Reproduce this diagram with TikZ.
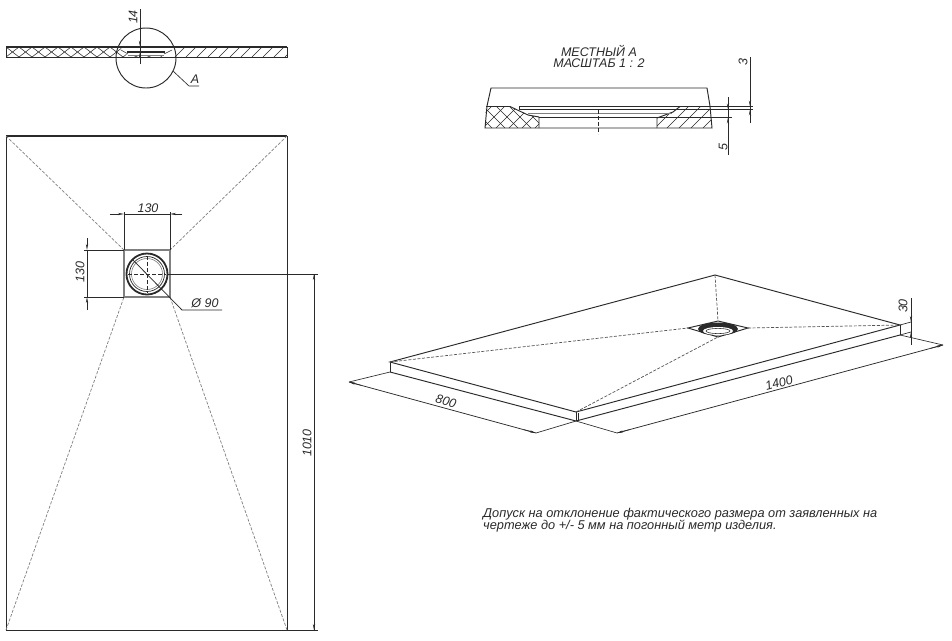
\documentclass[tikz,border=0pt]{standalone}
\usepackage{fontspec}
\setmainfont{Liberation Sans}
\usetikzlibrary{arrows.meta}
\definecolor{ink}{HTML}{2A2A2A}
\definecolor{soft}{HTML}{808080}
\tikzset{
  x=1pt,y=-1pt,
  edge/.style={draw=ink,line width=0.95pt},
  heavy/.style={draw=ink,line width=1.2pt},
  thin line/.style={draw=ink,line width=0.55pt},
  dash line/.style={draw=soft,line width=0.7pt,dash pattern=on 3pt off 1.6pt},
  dash dark/.style={draw=ink,line width=0.8pt,dash pattern=on 4pt off 2pt},
  dim/.style={draw=ink,line width=0.65pt},
  tip/.style={draw=ink,line width=0.65pt,-{Stealth[length=6pt,width=2.2pt]}},
  lbl/.style={font=\itshape\fontsize{12.5}{13}\selectfont,text=ink,inner sep=0pt},
}
\begin{document}
\begin{tikzpicture}
\useasboundingbox (0,0) rectangle (952,640);
\fill[white] (0,0) rectangle (952,640);

% ---------- top section
\begin{scope}
\clip (6,47) rectangle (287,57);
\foreach \k in {-2,...,11}{
  \draw[thin line] ({6+\k*13},47) -- ({6+(\k+1)*13},57);
  \draw[thin line] ({6+(\k+1)*13},47) -- ({6+\k*13},57);
}
\foreach \k in {0,...,13}{
  \draw[thin line] ({175+\k*11},57) -- ({185+\k*11},47);
}
\end{scope}
\fill[white] (121,48) -- (172,48) -- (165,56) -- (128,56) -- cycle;
\draw[edge] (6,47) rectangle (287,57);
\draw[heavy] (6,46.5) -- (287,46.5);
\draw[line width=2pt,draw=ink] (127,52) -- (165,52);
\draw[thin line] (121,50) -- (128,54) (172,50) -- (164,54);
\draw[line width=1pt,draw=soft] (128,55) -- (164,55);
\coordinate (circC) at (146,58);
\draw[edge] (circC) circle[radius=30];
\coordinate (dimA) at (140,9);
\coordinate (dimB) at (140,64);
\draw[dim] (dimA) -- (dimB);
\draw[tip] (140,32) -- (140,46.5);
\draw[tip] (140,64) -- (140,52);
\coordinate (la) at (173,71);
\coordinate (lb) at (189,86);
\coordinate (lc) at (199,86);
\draw[dim] (la) -- (lb) -- (lc);
\node[lbl] (labA) at (195,79) {А};
\node[lbl,rotate=90] (lab14) at (133,17) {14};

% ---------- detail
\node[lbl] (t1) at (599,50.5) {МЕСТНЫЙ А};
\node[lbl] (t2) at (599,63.5) {МАСШТАБ 1 : 2};
\begin{scope}
\clip (486,106.5) -- (510,106.5) -- (528,115) -- (539,117) -- (539,128) -- (485,128) -- cycle;
\foreach \k in {-1,...,7}{
  \draw[thin line] ({470+\k*13},106) -- ({470+\k*13+22},128);
  \draw[thin line] ({470+\k*13},128) -- ({470+\k*13+22},106);
}
\end{scope}
\begin{scope}
\clip (657,128) -- (657,118) -- (673,112) -- (680,106.5) -- (710,106.5) -- (712,128) -- cycle;
\foreach \k in {0,...,6}{
  \draw[thin line] ({655+\k*12},128) -- ({677+\k*12},106);
}
\end{scope}
\draw[edge] (487,106) -- (491,88) -- (707,88) -- (710,106) -- (712,128) -- (485,128) -- cycle;
\draw[edge] (486,106.5) -- (510,106.5) -- (528,115) -- (539,117) -- (539,128);
\draw[edge] (657,128) -- (657,118) -- (673,112) -- (680,106.5);
\draw[line width=1.6pt,draw=soft] (528,113.5) -- (672,113.5);
\draw[edge] (519,106.5) -- (753,106.5);
\draw[edge] (519,106.5) -- (519,110);
\draw[thin line] (519,109.5) -- (753,109.5);
\draw[edge] (539,117.5) -- (732,117.5);
\draw[dash dark] (598,110) -- (598,134);
\coordinate (d3a) at (750,57);
\coordinate (d3b) at (750,123);
\draw[dim] (d3a) -- (d3b);
\draw[tip] (750,95) -- (750,106.5);
\draw[tip] (750,123) -- (750,109.5);
\coordinate (d5a) at (728,97);
\coordinate (d5b) at (728,155);
\draw[dim] (d5a) -- (d5b);
\draw[tip] (728,97) -- (728,109.5);
\draw[tip] (728,132) -- (728,117.5);
\node[lbl,rotate=90] (lab3) at (743,62) {3};
\node[lbl,rotate=90] (lab5) at (723,147) {5};

% ---------- plan
\draw[edge] (6,136) rectangle (287,630);
\draw[heavy] (6,136) -- (287,136);
\coordinate (c1) at (6,136);
\coordinate (c2) at (287,136);
\coordinate (c3) at (287,630);
\coordinate (c4) at (6,630);
\coordinate (s1) at (124,250);
\coordinate (s2) at (170,250);
\coordinate (s3) at (170,297);
\coordinate (s4) at (124,297);
\draw[dash line] (c1) -- (s1);
\draw[dash line] (c2) -- (s2);
\draw[dash line] (c3) -- (s3);
\draw[dash line] (c4) -- (s4);
\draw[line width=2pt,draw=soft] (s1) rectangle (s3);
\coordinate (dc) at (147,274);
\draw[line width=1.8pt,draw=ink] (dc) circle[radius=20.5];
\draw[line width=0.7pt,draw=ink] (dc) circle[radius=17.5];
\draw[line width=0.6pt,draw=soft] (dc) circle[radius=15.5];
\draw[dash dark,line width=0.7pt] (147,256) -- (147,293);
\draw[dash dark,line width=0.7pt] (128,274) -- (166,274);
\draw[dim] (s1) -- (124,212);
\draw[dim] (s2) -- (170,212);
\draw[dim] (124,214) -- (170,214);
\draw[tip] (110,214) -- (124,214);
\draw[tip] (182,214) -- (170,214);
\node[lbl] (lab130a) at (148,208) {130};
\draw[dim] (s1) -- (84,250);
\draw[dim] (s4) -- (84,297);
\draw[dim] (87,250) -- (87,297);
\draw[tip] (87,238) -- (87,250);
\draw[tip] (87,310) -- (87,297);
\node[lbl,rotate=90] (lab130b) at (80,272) {130};
\coordinate (l1) at (132,259);
\coordinate (l2) at (182,310);
\coordinate (l3) at (222,310);
\draw[dim,line width=0.75pt] (l1) -- (l2) -- (l3);
\node[lbl] (labD) at (205,303) {Ø 90};
\coordinate (e1) at (168,274);
\coordinate (e2) at (318,274);
\coordinate (e3) at (318,630);
\draw[dim] (e1) -- (e2);
\draw[dim] (c3) -- (e3);
\draw[dim] (314,274) -- (314,630);
\draw[tip] (314,290) -- (314,274);
\draw[tip] (314,614) -- (314,630);
\node[lbl,rotate=90] (lab1010) at (307,443) {1010};

% ---------- isometric
\coordinate (a) at (715,275);
\coordinate (b) at (900,325);
\coordinate (b2) at (900,335);
\coordinate (f) at (576,412);
\coordinate (f2) at (576,421);
\coordinate (l) at (390,362);
\coordinate (l2b) at (390,372);
\draw[edge] (l) -- (a) -- (b) -- (f) -- cycle;
\draw[edge] (l2b) -- (f2) -- (b2);
\draw[edge] (l) -- (l2b);
\draw[edge] (b) -- (b2);
\draw[edge] (f) -- (f2);
\draw[thin line] (578,412.5) -- (578,421);
\coordinate (dl) at (688,328);
\coordinate (dr) at (748,328);
\coordinate (dt) at (718,321);
\coordinate (db) at (718,337);
\draw[dash line,draw=ink!80] (l) -- (dl);
\draw[dash line,draw=ink!80] (dr) -- (b);
\draw[dash line,draw=ink!80] (a) -- (dt);
\draw[dash line,draw=ink!80] (f) -- (db);
\draw[edge] (dl) -- (dt) -- (dr) -- (db) -- cycle;
\fill[ink] (718,329) ellipse[x radius=20,y radius=6.5];
\fill[white] (718,331) ellipse[x radius=15,y radius=4];
\draw[thin line] (718,331) ellipse[x radius=12,y radius=2.6];
% 800
\coordinate (m1) at (349,382);
\coordinate (m2) at (536,433);
\draw[dim] (l2b) -- (m1);
\draw[dim] (f2) -- (m2);
\draw[dim,line width=0.75pt] (m1) -- (m2);
\draw[tip] (361,385.3) -- (m1);
\draw[tip] (524,429.7) -- (m2);
\node[lbl,rotate=-15] (lab800) at (446,401) {800};
% 1400
\coordinate (n1) at (617,433);
\coordinate (n2) at (943,345);
\draw[dim] (f2) -- (n1);
\draw[dim] (b2) -- (n2);
\draw[dim,line width=0.75pt] (n1) -- (n2);
\draw[tip] (629,429.8) -- (n1);
\draw[tip] (931,348.2) -- (n2);
\node[lbl,rotate=15] (lab1400) at (779,383) {1400};
% 30
\coordinate (p1) at (911,322);
\coordinate (p2) at (911,332);
\draw[dim] (b) -- (p1);
\draw[dim] (b2) -- (p2);
\draw[dim] (911,298) -- (911,345);
\draw[tip] (911,310) -- (p1);
\draw[tip] (911,345) -- (p2);
\node[lbl,rotate=90] (lab30) at (903,306) {30};

% ---------- note
\node[lbl,anchor=west,font=\itshape\fontsize{12.77}{13}\selectfont] (note1) at (483,514) {Допуск на отклонение фактического размера от заявленных на};
\node[lbl,anchor=west,font=\itshape\fontsize{12.77}{13}\selectfont] (note2) at (483,526.5) {чертеже до +/- 5 мм на погонный метр изделия.};
\end{tikzpicture}
\end{document}
